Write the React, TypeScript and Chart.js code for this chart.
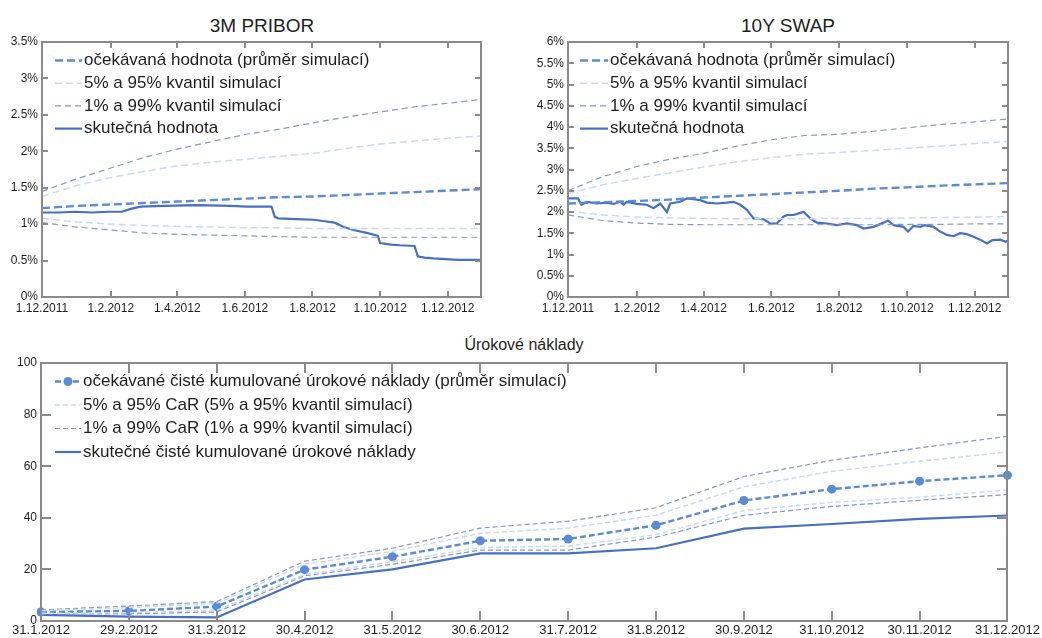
import React, { useEffect, useRef } from "react";
import { Chart, registerables } from "chart.js";
Chart.register(...registerables);

const FONT = '"Liberation Sans", Arial, Helvetica, sans-serif';

// ---------- top charts: x axis (day index from 1.12.2011) ----------
const dayTicks = [0, 62, 122, 183, 244, 305, 366];
const dayTickLabels = ["1.12.2011", "1.2.2012", "1.4.2012", "1.6.2012", "1.8.2012", "1.10.2012", "1.12.2012"];
const simDays = [0, 31, 62, 91, 122, 152, 183, 213, 244, 275, 305, 336, 366, 396];

// ---------- 3M PRIBOR ----------
const priborMean = [1.22, 1.25, 1.27, 1.29, 1.31, 1.33, 1.35, 1.37, 1.38, 1.40, 1.42, 1.44, 1.46, 1.48];
const priborQ05 = [1.08, 1.03, 1.00, 0.98, 0.97, 0.96, 0.95, 0.95, 0.94, 0.94, 0.94, 0.94, 0.94, 0.94];
const priborQ95 = [1.38, 1.53, 1.64, 1.72, 1.80, 1.85, 1.89, 1.93, 1.97, 2.04, 2.10, 2.14, 2.18, 2.21];
const priborQ01 = [1.02, 0.96, 0.92, 0.88, 0.86, 0.85, 0.84, 0.83, 0.82, 0.82, 0.82, 0.82, 0.82, 0.82];
const priborQ99 = [1.45, 1.62, 1.77, 1.91, 2.03, 2.13, 2.23, 2.30, 2.39, 2.47, 2.54, 2.61, 2.66, 2.71];
const priborActualDays = [0, 15, 30, 45, 60, 72, 80, 89, 110, 140, 170, 185, 207, 210, 213, 230, 245, 255, 264, 272, 281, 293, 303, 305, 315, 323, 336, 339, 345, 353, 375, 396];
const priborActual = [1.16, 1.16, 1.17, 1.16, 1.17, 1.17, 1.21, 1.24, 1.25, 1.26, 1.25, 1.24, 1.24, 1.10, 1.08, 1.07, 1.06, 1.04, 1.02, 0.96, 0.92, 0.88, 0.84, 0.74, 0.72, 0.71, 0.70, 0.56, 0.54, 0.53, 0.51, 0.51];
const priborYTicks = [0, 0.5, 1, 1.5, 2, 2.5, 3, 3.5];

// ---------- 10Y SWAP ----------
const swapMean = [2.20, 2.23, 2.26, 2.29, 2.34, 2.38, 2.42, 2.46, 2.50, 2.55, 2.58, 2.62, 2.65, 2.68];
const swapQ05 = [2.02, 1.93, 1.88, 1.86, 1.85, 1.84, 1.84, 1.84, 1.85, 1.85, 1.86, 1.87, 1.88, 1.89];
const swapQ95 = [2.43, 2.64, 2.79, 2.92, 3.06, 3.18, 3.28, 3.36, 3.40, 3.45, 3.50, 3.55, 3.61, 3.66];
const swapQ01 = [1.93, 1.80, 1.74, 1.71, 1.70, 1.70, 1.70, 1.70, 1.70, 1.70, 1.71, 1.71, 1.72, 1.72];
const swapQ99 = [2.50, 2.83, 3.07, 3.24, 3.38, 3.55, 3.70, 3.80, 3.83, 3.90, 3.98, 4.06, 4.12, 4.19];
const swapActualDays = [0, 5, 9, 12, 17, 26, 35, 41, 47, 50, 53, 62, 71, 77, 83, 89, 92, 101, 107, 113, 119, 125, 134, 143, 149, 155, 161, 167, 176, 182, 188, 194, 197, 203, 209, 212, 218, 224, 233, 242, 251, 260, 266, 275, 284, 288, 293, 302, 306, 311, 317, 321, 329, 335, 341, 347, 353, 359, 365, 371, 377, 382, 389, 394, 396];
const swapActual = [2.32, 2.32, 2.32, 2.17, 2.24, 2.20, 2.22, 2.19, 2.24, 2.17, 2.24, 2.19, 2.17, 2.09, 2.20, 2.00, 2.20, 2.24, 2.32, 2.30, 2.28, 2.22, 2.20, 2.22, 2.24, 2.17, 2.05, 1.85, 1.83, 1.73, 1.73, 1.89, 1.93, 1.93, 1.98, 2.00, 1.85, 1.75, 1.73, 1.69, 1.73, 1.69, 1.61, 1.65, 1.75, 1.80, 1.69, 1.65, 1.54, 1.67, 1.65, 1.69, 1.65, 1.54, 1.46, 1.43, 1.50, 1.48, 1.42, 1.35, 1.26, 1.34, 1.35, 1.30, 1.34];
const swapYTicks = [0, 0.5, 1, 1.5, 2, 2.5, 3, 3.5, 4, 4.5, 5, 5.5, 6];

// ---------- Úrokové náklady ----------
const costLabels = ["31.1.2012", "29.2.2012", "31.3.2012", "30.4.2012", "31.5.2012", "30.6.2012", "31.7.2012", "31.8.2012", "30.9.2012", "31.10.2012", "30.11.2012", "31.12.2012"];
const costMean = [3.5, 3.9, 5.6, 19.9, 24.9, 31.1, 31.8, 37.1, 46.7, 51.1, 54.2, 56.5];
const costActual = [2.4, 1.7, 1.4, 16.1, 20.0, 26.2, 26.2, 28.2, 35.8, 37.6, 39.6, 40.9];
const costQ95 = [4.0, 5.2, 6.8, 22.0, 27.0, 34.0, 36.0, 41.0, 52.0, 58.0, 61.9, 65.5];
const costQ05 = [3.0, 3.2, 4.2, 18.0, 23.0, 28.5, 29.0, 33.5, 42.8, 46.0, 48.0, 50.8];
const costQ99 = [4.3, 5.8, 7.5, 23.2, 28.2, 36.0, 38.7, 43.9, 56.0, 62.3, 67.1, 71.6];
const costQ01 = [2.8, 2.8, 3.5, 17.5, 22.0, 27.5, 27.5, 32.5, 41.0, 44.4, 46.8, 49.0];

// ---------- legend texts ----------
const rateLegend = ["očekávaná hodnota (průměr simulací)", "5% a 95% kvantil simulací", "1% a 99% kvantil simulací", "skutečná hodnota"];
const costLegend = ["očekávané čisté kumulované úrokové náklady (průměr simulací)", "5% a 95% CaR (5% a 95% kvantil simulací)", "1% a 99% CaR (1% a 99% kvantil simulací)", "skutečné čisté kumulované úrokové náklady"];

// ---------- styles ----------
const C_MEAN = "#5a8bd6";
const C_Q95 = "#c6dbf3";
const C_Q99 = "#8597c1";
const C_ACT = "#4570c4";
const C_AXIS = "#8a8a8a";
const C_TEXT = "#1e1e1e";

const S_MEAN = { color: C_MEAN, width: 2.4, dash: [8, 4] };
const S_Q95 = { color: C_Q95, width: 1.5, dash: [7, 4] };
const S_Q99 = { color: C_Q99, width: 1.2, dash: [6, 4] };
const S_ACT = { color: C_ACT, width: 2.2, dash: [] as number[] };

const matlabAxes = {
  id: "matlabAxes",
  afterDraw(chart: any, _a: any, o: any) {
    const { ctx, chartArea: a } = chart;
    const w = 2;
    const L = Math.round(a.left) - 1, R = Math.round(a.right) - 1;
    const T = Math.round(a.top) - 1, B = Math.round(a.bottom) - 1;
    const len = o.tickLen || 5;
    ctx.save();
    ctx.fillStyle = C_AXIS;
    // box
    ctx.fillRect(L, T, R - L + w, w);
    ctx.fillRect(L, B, R - L + w, w);
    ctx.fillRect(L, T, w, B - T + w);
    ctx.fillRect(R, T, w, B - T + w);
    // inward ticks on all four sides
    const xs = chart.scales.x, ys = chart.scales.y;
    xs.ticks.forEach((_t: any, i: number) => {
      const px = Math.round(xs.getPixelForTick(i)) - 1;
      ctx.fillRect(px, B - len, w, len);
      ctx.fillRect(px, T + w, w, len);
    });
    ys.ticks.forEach((_t: any, i: number) => {
      const py = Math.round(ys.getPixelForTick(i)) - 1;
      ctx.fillRect(L + w, py, len, w);
      ctx.fillRect(R - len, py, len, w);
    });
    ctx.restore();
  },
};

const insideLegend = {
  id: "insideLegend",
  afterDatasetsDraw(chart: any, _a: any, o: any) {
    if (!o || !o.items) return;
    const ctx = chart.ctx;
    ctx.save();
    ctx.font = o.font;
    ctx.textBaseline = "middle";
    o.items.forEach((it: any, i: number) => {
      const y = o.y + i * o.dy;
      ctx.beginPath();
      ctx.strokeStyle = it.color;
      ctx.lineWidth = it.width;
      ctx.setLineDash(it.dash || []);
      ctx.moveTo(o.x0, y);
      ctx.lineTo(o.x1, y);
      ctx.stroke();
      if (it.marker) {
        ctx.setLineDash([]);
        ctx.beginPath();
        ctx.fillStyle = it.color;
        ctx.arc((o.x0 + o.x1) / 2, y, it.marker, 0, Math.PI * 2);
        ctx.fill();
      }
      ctx.fillStyle = C_TEXT;
      ctx.fillText(it.label, o.tx, y);
    });
    ctx.restore();
  },
};

function pts(days: number[], vals: number[]) {
  return days.map((d, i) => ({ x: d, y: vals[i] }));
}

function lineDs(label: string, data: any, s: any, extra: any = {}) {
  return {
    label, data,
    borderColor: s.color, backgroundColor: s.color,
    borderWidth: s.width, borderDash: s.dash,
    pointRadius: 0, tension: 0, fill: false,
    ...extra,
  };
}

const fmtPct = (v: number) => `${Number(v.toFixed(1))}%`;

function rateConfig(p: any) {
  const datasets = [
    lineDs(rateLegend[1], pts(simDays, p.q95), S_Q95),
    lineDs(rateLegend[1] + " (5%)", pts(simDays, p.q05), S_Q95),
    lineDs(rateLegend[2], pts(simDays, p.q99), S_Q99),
    lineDs(rateLegend[2] + " (1%)", pts(simDays, p.q01), S_Q99),
    lineDs(rateLegend[0], pts(simDays, p.mean), S_MEAN),
    lineDs(rateLegend[3], pts(p.actDays, p.act), S_ACT),
  ];
  return {
    type: "line",
    data: { datasets },
    plugins: [matlabAxes, insideLegend],
    options: {
      responsive: false, animation: false, devicePixelRatio: 1,
      layout: { padding: p.padding },
      plugins: {
        legend: { display: false }, title: { display: false }, tooltip: { enabled: false },
        matlabAxes: { tickLen: 5 },
        insideLegend: {
          font: `17px ${FONT}`,
          x0: p.legX0, x1: p.legX1, tx: p.legTx, y: 60.5, dy: 22.7,
          items: [
            { label: rateLegend[0], ...S_MEAN },
            { label: rateLegend[1], ...S_Q95 },
            { label: rateLegend[2], ...S_Q99 },
            { label: rateLegend[3], ...S_ACT },
          ],
        },
      },
      scales: {
        x: {
          type: "linear", min: 0, max: 396,
          afterBuildTicks: (s: any) => { s.ticks = dayTicks.map((v) => ({ value: v })); },
          afterFit: (s: any) => { s.height = 20; },
          ticks: { callback: (_v: any, i: number) => dayTickLabels[i], font: { family: FONT, size: 12 }, color: C_TEXT, padding: 4, maxRotation: 0, autoSkip: false },
          grid: { display: false, drawTicks: false },
          border: { display: false },
        },
        y: {
          type: "linear", min: 0, max: p.ymax,
          afterBuildTicks: (s: any) => { s.ticks = p.yTicks.map((v: number) => ({ value: v })); },
          afterFit: (s: any) => { s.width = 42; },
          ticks: { callback: (v: number) => fmtPct(v), font: { family: FONT, size: 12 }, color: C_TEXT, padding: 4 },
          grid: { display: false, drawTicks: false },
          border: { display: false },
        },
      },
    },
  };
}

function costConfig() {
  const datasets = [
    lineDs(costLegend[1], costQ95, { ...S_Q95, dash: [5, 3] }),
    lineDs(costLegend[1] + " (5%)", costQ05, { ...S_Q95, dash: [5, 3] }),
    lineDs(costLegend[2], costQ99, { ...S_Q99, dash: [5, 3] }),
    lineDs(costLegend[2] + " (1%)", costQ01, { ...S_Q99, dash: [5, 3] }),
    lineDs(costLegend[0], costMean, { ...S_MEAN, dash: [6, 3] }, { pointRadius: 4.5, pointBackgroundColor: C_MEAN, pointBorderWidth: 0, pointStyle: "circle" }),
    lineDs(costLegend[3], costActual, S_ACT),
  ];
  return {
    type: "line",
    data: { labels: costLabels, datasets },
    plugins: [matlabAxes, insideLegend],
    options: {
      responsive: false, animation: false, devicePixelRatio: 1,
      layout: { padding: { left: 0, right: 34, top: 363, bottom: 0 } },
      plugins: {
        legend: { display: false }, title: { display: false }, tooltip: { enabled: false },
        matlabAxes: { tickLen: 9 },
        insideLegend: {
          font: `17px ${FONT}`,
          x0: 55, x1: 81, tx: 83, y: 381.5, dy: 23.5,
          items: [
            { label: costLegend[0], ...S_MEAN, dash: [6, 3], marker: 4.5 },
            { label: costLegend[1], ...S_Q95, dash: [5, 3] },
            { label: costLegend[2], ...S_Q99, dash: [5, 3] },
            { label: costLegend[3], ...S_ACT },
          ],
        },
      },
      scales: {
        x: {
          type: "category", offset: false,
          afterFit: (s: any) => { s.height = 17; },
          ticks: { font: { family: FONT, size: 13 }, color: C_TEXT, padding: 2, maxRotation: 0, autoSkip: false },
          grid: { display: false, drawTicks: false },
          border: { display: false },
        },
        y: {
          type: "linear", min: 0, max: 100,
          afterFit: (s: any) => { s.width = 41; },
          ticks: { stepSize: 20, font: { family: FONT, size: 12 }, color: C_TEXT, padding: 4 },
          grid: { display: false, drawTicks: false },
          border: { display: false },
        },
      },
    },
  };
}

function ChartCanvas({ make }: { make: () => any }) {
  const ref = useRef<HTMLCanvasElement | null>(null);
  useEffect(() => {
    const c = new Chart(ref.current as HTMLCanvasElement, make());
    return () => c.destroy();
  }, []);
  return (
    <canvas ref={ref} width={1042} height={638}
      style={{ position: "absolute", left: 0, top: 0, width: 1042, height: 638 }} />
  );
}

function Title({ text, cx, top, size }: { text: string; cx: number; top: number; size: number }) {
  return (
    <div style={{ position: "absolute", left: cx - 200, top, width: 400, textAlign: "center", fontFamily: FONT, fontSize: size, lineHeight: `${size}px`, color: C_TEXT, whiteSpace: "nowrap" }}>
      {text}
    </div>
  );
}

export default function App() {
  return (
    <div style={{ position: "absolute", left: 0, top: 0, width: 1042, height: 638, background: "#fff", overflow: "hidden" }}>
      <Title text="3M PRIBOR" cx={262} top={16} size={19} />
      <Title text="10Y SWAP" cx={788} top={16} size={19} />
      <Title text="Úrokové náklady" cx={524} top={337} size={16} />
      <ChartCanvas make={() => rateConfig({
        mean: priborMean, q05: priborQ05, q95: priborQ95, q01: priborQ01, q99: priborQ99,
        actDays: priborActualDays, act: priborActual, ymax: 3.5, yTicks: priborYTicks,
        padding: { left: 0, right: 561, top: 42, bottom: 321 }, legX0: 55, legX1: 82, legTx: 84,
      })} />
      <ChartCanvas make={() => rateConfig({
        mean: swapMean, q05: swapQ05, q95: swapQ95, q01: swapQ01, q99: swapQ99,
        actDays: swapActualDays, act: swapActual, ymax: 6, yTicks: swapYTicks,
        padding: { left: 526, right: 34, top: 42, bottom: 321 }, legX0: 580, legX1: 608, legTx: 610,
      })} />
      <ChartCanvas make={costConfig} />
    </div>
  );
}
